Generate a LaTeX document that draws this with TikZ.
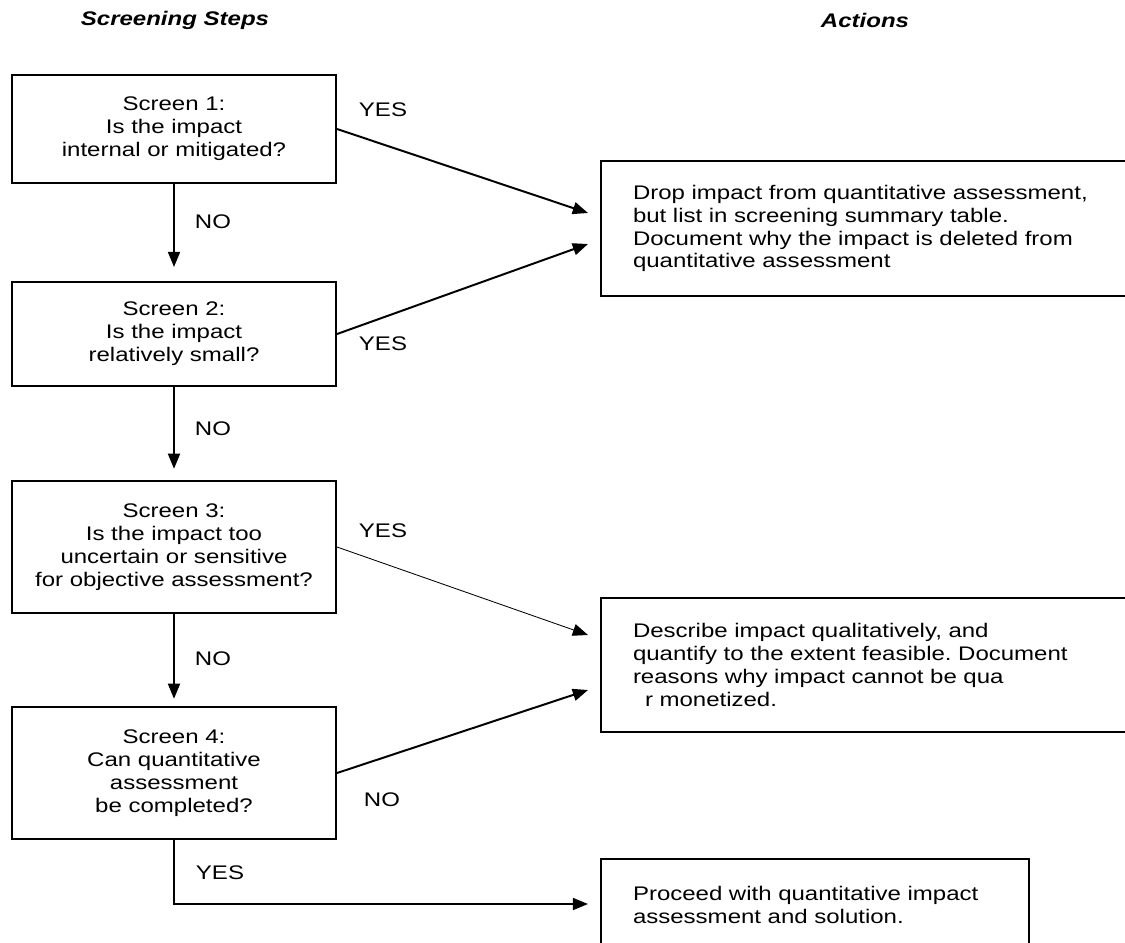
\documentclass[tikz,border=0pt]{standalone}
\usepackage{fontspec}
\setmainfont[FakeStretch=1.22]{Liberation Sans}
\usetikzlibrary{arrows.meta}
\frenchspacing

\begin{document}
\begin{tikzpicture}[x=0.025cm, y=-0.025cm,
	every node/.style={font=\fontsize{14}{16.3}\selectfont},
	heading/.style={font=\fontsize{14}{16.3}\selectfont\bfseries\itshape},
	screen/.style={shape=rectangle, draw, line width=1.4pt, minimum width=8.1cm, align=center, inner sep=0pt},
	action/.style={shape=rectangle, draw, line width=1.4pt, align=left, anchor=north west, inner xsep=0.8cm, inner ysep=0pt},
	flow/.style={line width=1.4pt, -{Triangle[length=0.38cm, width=0.3cm]}},
	answer/.style={anchor=center}]
	\useasboundingbox (0,0) rectangle (1125,942);
	\clip (0,0) rectangle (1125,942);
	% headings
	\node[heading] (hsteps) at (175,20) {Screening Steps};
	\node[heading] (hactions) at (865,20) {Actions};
	% screening boxes
	\node[screen, minimum height=2.7cm] (s1) at (174,129) {Screen 1:\\Is the impact\\internal or mitigated?};
	\node[screen, minimum height=2.6cm] (s2) at (174,334) {Screen 2:\\Is the impact\\relatively small?};
	\node[screen, minimum height=3.3cm] (s3) at (174,547) {Screen 3:\\Is the impact too\\uncertain or sensitive\\for objective assessment?};
	\node[screen, minimum height=3.3cm] (s4) at (174,773) {Screen 4:\\Can quantitative\\assessment\\be completed?};
	% action boxes
	\node[action, text width=12.5cm, minimum height=3.375cm] (a1) at (600,160) {Drop impact from quantitative assessment,\\but list in screening summary table.\\Document why the impact is deleted from\\quantitative assessment};
	\node[action, text width=12.5cm, minimum height=3.35cm] (a2) at (600,597) {Describe impact qualitatively, and\\quantify to the extent feasible. Document\\reasons why impact cannot be qua\\\hspace*{0.3cm}r monetized.};
	\node[action, text width=9.1cm, minimum height=2.3cm] (a3) at (600,858) {Proceed with quantitative impact\\assessment and solution.};
	% arrow ends
	\coordinate (a1up) at (588,213);
	\coordinate (a1lo) at (588,244);
	\coordinate (a2up) at (588,635);
	\coordinate (a2lo) at (588,690);
	\coordinate (a3in) at (588,904);
	% connectors
	\draw[flow] (s1.east) -- (a1up);
	\draw[flow] (s2.east) -- (a1lo);
	\draw[flow, line width=0.6pt] (s3.east) -- (a2up);
	\draw[flow] (s4.east) -- (a2lo);
	\draw[flow, shorten >=0.35cm] (s1.south) -- (s2.north);
	\draw[flow, shorten >=0.28cm] (s2.south) -- (s3.north);
	\draw[flow, shorten >=0.18cm] (s3.south) -- (s4.north);
	\draw[flow] (s4.south) |- (a3in);
	% answers
	\node[answer] (yes1) at (383,110) {YES};
	\node[answer] (no1) at (213,222) {NO};
	\node[answer] (yes2) at (383,344) {YES};
	\node[answer] (no2) at (213,429) {NO};
	\node[answer] (yes3) at (383,531) {YES};
	\node[answer] (no3) at (213,659) {NO};
	\node[answer] (no4) at (382,800) {NO};
	\node[answer] (yes4) at (220,873) {YES};
\end{tikzpicture}
\end{document}
